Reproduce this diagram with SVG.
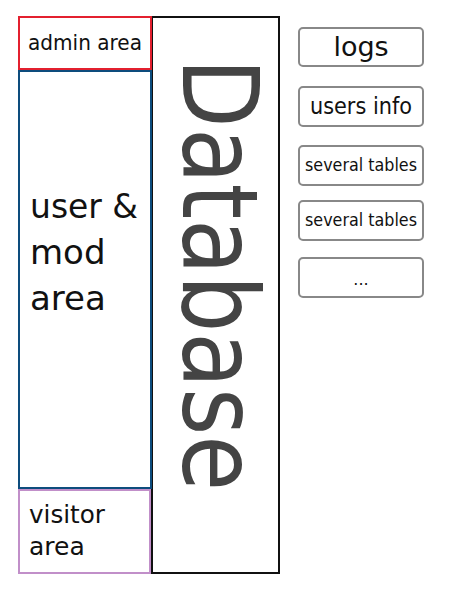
<svg xmlns="http://www.w3.org/2000/svg" width="450" height="600" viewBox="0 0 450 600">
<style>
text{font-family:"DejaVu Sans","Liberation Sans",sans-serif;fill:#111}
.area{fill:#fff;stroke-width:2}
.tbl rect{fill:#fff;stroke:#888;stroke-width:2}
.tbl text{text-anchor:middle}
</style>
<rect width="450" height="600" fill="#fff"/>
<g id="database">
<rect x="152" y="17" width="127" height="556" fill="#fff" stroke="#111" stroke-width="2"/>
<text transform="translate(183,58) rotate(90)" font-size="106" style="fill:#444" textLength="433" lengthAdjust="spacingAndGlyphs">Database</text>
</g>
<g id="admin">
<rect class="area" x="19" y="17" width="132" height="52" stroke="#e3202f"/>
<text x="28" y="50" font-size="21" textLength="114" lengthAdjust="spacingAndGlyphs">admin area</text>
</g>
<g id="usermod">
<rect class="area" x="19" y="71" width="132" height="417" stroke="#0d4c7d"/>
<text x="30" y="218" font-size="34" textLength="108" lengthAdjust="spacingAndGlyphs">user &amp;</text>
<text x="30" y="264" font-size="34">mod</text>
<text x="30" y="310" font-size="34">area</text>
</g>
<g id="visitor">
<rect class="area" x="19" y="490" width="131" height="83" stroke="#c18fc9"/>
<text x="29" y="523" font-size="25" textLength="76" lengthAdjust="spacingAndGlyphs">visitor</text>
<text x="29" y="555" font-size="25">area</text>
</g>
<g id="logs" class="tbl">
<rect x="299" y="28" width="124" height="38" rx="4"/>
<text x="361" y="56" font-size="27">logs</text>
</g>
<g id="usersinfo" class="tbl">
<rect x="299" y="87" width="124" height="39" rx="4"/>
<text x="361" y="114" font-size="23" textLength="102" lengthAdjust="spacingAndGlyphs">users info</text>
</g>
<g id="tables1" class="tbl">
<rect x="299" y="146" width="124" height="39" rx="4"/>
<text x="361" y="171" font-size="17" textLength="112" lengthAdjust="spacingAndGlyphs">several tables</text>
</g>
<g id="tables2" class="tbl">
<rect x="299" y="201" width="124" height="39" rx="4"/>
<text x="361" y="226" font-size="17" textLength="112" lengthAdjust="spacingAndGlyphs">several tables</text>
</g>
<g id="more" class="tbl">
<rect x="299" y="258" width="124" height="39" rx="4"/>
<text x="361" y="285" font-size="16">...</text>
</g>
<g id="connectors"></g>
</svg>
